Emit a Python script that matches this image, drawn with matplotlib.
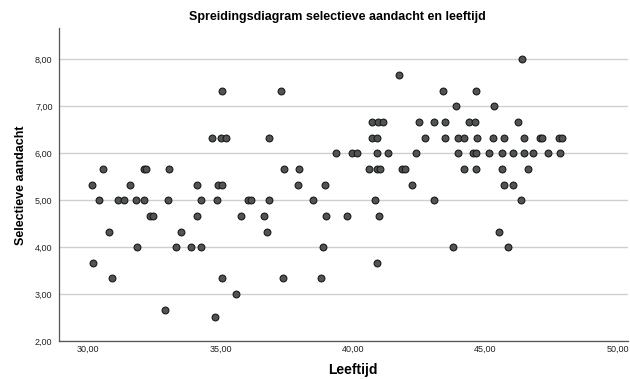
import matplotlib
matplotlib.use("Agg")
import matplotlib.pyplot as plt
from matplotlib.ticker import FuncFormatter

plt.rcParams['font.family'] = ['Liberation Sans', 'DejaVu Sans']

# leeftijd per niveau van selectieve aandacht
y_levels = [8.0, 7.67, 7.33, 7.0, 6.67, 6.33, 6.0, 5.67, 5.33, 5.0,
            4.67, 4.33, 4.0, 3.67, 3.33, 3.0, 2.67, 2.5]
ages = [
    [46.37],
    [41.74],
    [35.07, 37.27, 43.38, 44.65],
    [43.9, 45.31],
    [40.72, 40.94, 41.14, 42.49, 43.06, 43.48, 44.39, 44.59, 46.24],
    [34.69, 35.03, 35.22, 36.84, 40.72, 40.92, 42.73, 43.48, 43.96, 44.2,
     44.68, 45.28, 45.7, 46.46, 47.07, 47.13, 47.78, 47.89],
    [39.37, 39.97, 40.16, 40.92, 41.32, 42.37, 43.96, 44.54, 44.65, 45.12,
     45.61, 46.03, 46.46, 46.79, 47.35, 47.8],
    [30.55, 32.1, 32.2, 33.04, 37.41, 37.96, 40.62, 40.89, 41.0, 41.85,
     41.97, 44.18, 44.65, 45.61, 46.59],
    [30.15, 31.6, 34.1, 34.92, 35.07, 37.92, 38.94, 42.23, 45.71, 46.04],
    [30.42, 31.14, 31.35, 31.8, 32.1, 33.0, 34.26, 34.87, 36.05, 36.15,
     36.82, 38.49, 40.82, 43.06, 46.33],
    [32.34, 32.46, 34.11, 35.77, 36.63, 38.98, 39.77, 40.98],
    [30.8, 33.5, 36.75, 45.51],
    [31.84, 33.31, 33.9, 34.26, 38.86, 43.77, 45.85],
    [30.18, 40.92],
    [30.9, 35.05, 37.35, 38.79],
    [35.57],
    [32.9],
    [34.8],
]

x = []
y = []
for lvl, row in zip(y_levels, ages):
    for a in row:
        x.append(a)
        y.append(lvl)

fig = plt.figure(figsize=(6.3, 3.79), dpi=100)
ax = fig.add_axes([0.0944, 0.1003, 0.9026, 0.8257])

ax.set_yticks(range(2, 9))
ax.grid(axis='y', color='#d0d0d0', lw=1)
ax.set_axisbelow(True)
ax.scatter(x, y, s=24, c='#4f5555', edgecolors='#1a1a1a', linewidths=0.8, zorder=3)

ax.set_xlim(28.92, 50.38)
ax.set_ylim(2, 8.66)
ax.set_xticks([30, 35, 40, 45, 50])
fmt = FuncFormatter(lambda v, p: f"{v:.2f}".replace('.', ','))
ax.xaxis.set_major_formatter(fmt)
ax.yaxis.set_major_formatter(fmt)
ax.tick_params(length=0, labelsize=6.5, colors='#222222')
ax.tick_params(axis='x', pad=3)
ax.tick_params(axis='y', pad=5)

for s in ['top', 'right']:
    ax.spines[s].set_visible(False)
for s in ['left', 'bottom']:
    ax.spines[s].set_color('#555555')
    ax.spines[s].set_linewidth(0.9)

fig.text(0.56, 0.023, "Leeftijd", ha='center', va='center', fontsize=10, fontweight='bold')
fig.text(0.033, 0.51, "Selectieve aandacht", ha='center', va='center', rotation=90,
         fontsize=9, fontweight='bold')
fig.text(0.535, 0.955, "Spreidingsdiagram selectieve aandacht en leeftijd",
         ha='center', va='center', fontsize=9, fontweight='bold')

fig.savefig("out.png", dpi=100)
